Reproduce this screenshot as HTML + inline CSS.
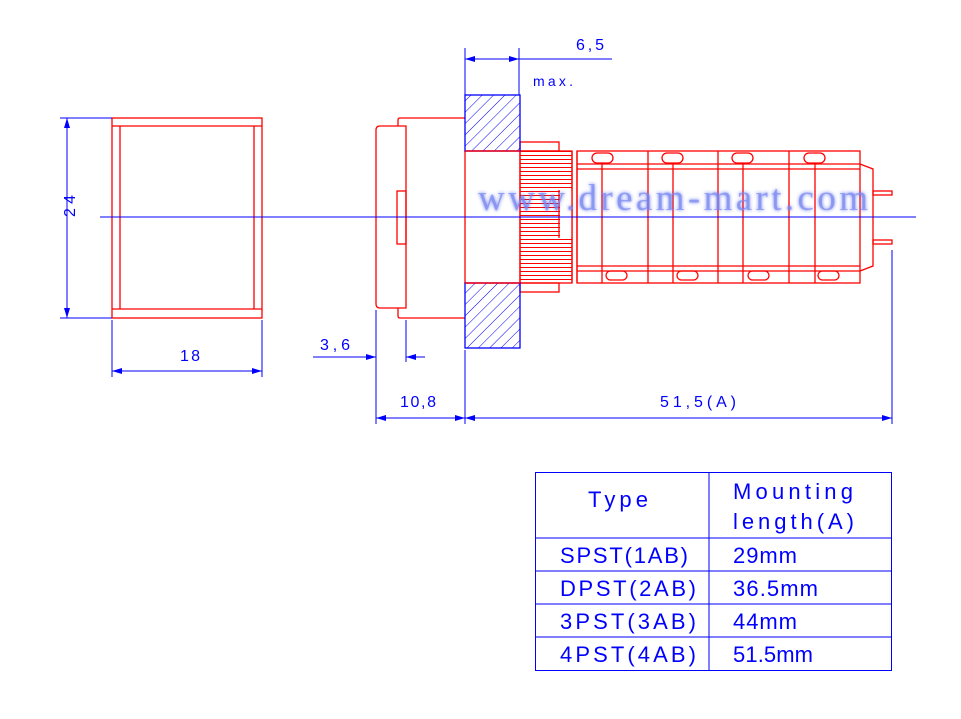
<!DOCTYPE html>
<html><head><meta charset="utf-8"><style>
html,body{margin:0;padding:0;background:#fff;width:961px;height:719px;overflow:hidden}
svg text{font-family:"Liberation Sans",sans-serif;fill:#0000ff}
</style></head><body>
<svg width="961" height="719" viewBox="0 0 961 719" xmlns="http://www.w3.org/2000/svg">
<defs>
<pattern id="hatch" patternUnits="userSpaceOnUse" width="8" height="8" patternTransform="rotate(45)">
<line x1="0" y1="0" x2="0" y2="8" stroke="#0000ff" stroke-width="1"/></pattern>
<pattern id="knurl" patternUnits="userSpaceOnUse" x="0" y="151" width="10" height="4">
<line x1="0" y1="0.5" x2="10" y2="0.5" stroke="#ff0000" stroke-width="1"/></pattern>
<filter id="blur"><feGaussianBlur stdDeviation="1.8"/></filter>
<marker id="ar" viewBox="0 0 10 6" refX="10" refY="3" markerWidth="10" markerHeight="6" orient="auto-start-reverse" markerUnits="userSpaceOnUse"><path d="M0,0 L10,3 L0,6 Z" fill="#0000ff"/></marker>
</defs>
<g fill="none" stroke="#ff0000" stroke-width="1.3">
<rect x="112" y="118" width="150" height="200"/>
<line x1="112" y1="126" x2="262" y2="126"/><line x1="112" y1="309" x2="262" y2="309"/>
<line x1="120" y1="126" x2="120" y2="309"/><line x1="254" y1="126" x2="254" y2="309"/>
<path d="M406,126 L380,126 Q376,126 376,130 L376,304 Q376,308 380,308 L406,308 Z"/>
<rect x="397" y="191" width="9" height="53"/>
<path d="M398,126 L398,120 Q398,118 400,118 L465,118"/>
<path d="M398,308 L398,316 Q398,318 400,318 L465,318"/>
<rect x="465" y="151" width="55" height="132"/>
<rect x="520" y="151" width="52" height="132" fill="url(#knurl)"/>
<rect x="560" y="191" width="11.5" height="46" fill="#fff" stroke="none"/>
<rect x="520" y="142" width="39" height="9"/><rect x="520" y="283" width="39" height="9"/>
<line x1="559" y1="190" x2="559" y2="238"/>
<line x1="572" y1="151" x2="572" y2="283"/><line x1="577" y1="151" x2="577" y2="283"/>
<rect x="577" y="151" width="283" height="132"/>
<line x1="577" y1="164" x2="860" y2="164"/><line x1="577" y1="169" x2="860" y2="169"/>
<line x1="577" y1="266" x2="860" y2="266"/><line x1="577" y1="271" x2="860" y2="271"/>
<line x1="648" y1="151" x2="648" y2="283"/><line x1="718" y1="151" x2="718" y2="283"/><line x1="789" y1="151" x2="789" y2="283"/>
<line x1="602" y1="164" x2="602" y2="283"/><line x1="673" y1="164" x2="673" y2="283"/><line x1="743" y1="164" x2="743" y2="283"/><line x1="815" y1="164" x2="815" y2="283"/>
<rect x="592" y="153" width="21" height="10" rx="5"/><rect x="662" y="153" width="21" height="10" rx="5"/><rect x="732" y="153" width="21" height="10" rx="5"/><rect x="804" y="153" width="21" height="10" rx="5"/>
<rect x="606" y="271" width="21" height="9" rx="4.5"/><rect x="677" y="271" width="21" height="9" rx="4.5"/><rect x="748" y="271" width="21" height="9" rx="4.5"/><rect x="818" y="271" width="21" height="9" rx="4.5"/>
<path d="M860,164 L873,169 L873,266 L860,271"/>
<rect x="873" y="191" width="19" height="4"/><rect x="873" y="240" width="19" height="4"/>
</g>
<rect x="465" y="95" width="55" height="56" fill="url(#hatch)" stroke="#0000ff" stroke-width="1.3"/>
<rect x="465" y="283" width="55" height="65" fill="url(#hatch)" stroke="#0000ff" stroke-width="1.3"/>
<line x1="465" y1="151" x2="520" y2="151" stroke="#ff0000" stroke-width="1.3"/>
<line x1="465" y1="283" x2="520" y2="283" stroke="#ff0000" stroke-width="1.3"/>
<text x="478" y="210" font-size="37" textLength="390" style="font-family:'Liberation Serif',serif;fill:#3a50f0;opacity:0.7" filter="url(#blur)">www.dream-mart.com</text>
<text x="478" y="210" font-size="37" textLength="390" style="font-family:'Liberation Serif',serif;fill:#7d8cf0;opacity:0.7">www.dream-mart.com</text>
<g stroke="#0000ff" stroke-width="1" fill="none">
<line x1="100" y1="217" x2="916" y2="217"/>
<line x1="60" y1="118" x2="112" y2="118"/><line x1="60" y1="318" x2="112" y2="318"/>
<line x1="67" y1="118" x2="67" y2="318" marker-start="url(#ar)" marker-end="url(#ar)"/>
<line x1="112" y1="320" x2="112" y2="377"/><line x1="262" y1="320" x2="262" y2="377"/>
<line x1="112" y1="371" x2="262" y2="371" marker-start="url(#ar)" marker-end="url(#ar)"/>
<line x1="465" y1="48" x2="465" y2="95"/><line x1="519" y1="48" x2="519" y2="95"/>
<line x1="465" y1="59" x2="519" y2="59" marker-start="url(#ar)" marker-end="url(#ar)"/>
<line x1="519" y1="59" x2="612" y2="59"/>
<line x1="376" y1="310" x2="376" y2="424"/><line x1="406" y1="320" x2="406" y2="362"/>
<line x1="465" y1="350" x2="465" y2="424"/><line x1="892" y1="250" x2="892" y2="424"/>
<line x1="313" y1="357" x2="376" y2="357" marker-end="url(#ar)"/>
<line x1="425" y1="357" x2="406" y2="357" marker-end="url(#ar)"/>
<line x1="376" y1="418" x2="465" y2="418" marker-start="url(#ar)" marker-end="url(#ar)"/>
<line x1="465" y1="418" x2="892" y2="418" marker-start="url(#ar)" marker-end="url(#ar)"/>
<rect x="535.5" y="472.5" width="356" height="198"/>
<line x1="709" y1="472" x2="709" y2="671"/>
<line x1="535" y1="538" x2="892" y2="538"/><line x1="535" y1="571" x2="892" y2="571"/>
<line x1="535" y1="604" x2="892" y2="604"/><line x1="535" y1="637" x2="892" y2="637"/>
</g>
<g font-size="16">
<text x="62" y="230" transform="rotate(-90 62 217)" textLength="22">24</text>
<text x="180" y="361" textLength="20">18</text>
<text x="576" y="50" textLength="28">6,5</text>
<text x="533" y="86" font-size="14" textLength="40">max.</text>
<text x="320" y="350" textLength="30">3,6</text>
<text x="400" y="407" textLength="36">10,8</text>
<text x="660" y="407" textLength="76">51,5(A)</text>
</g>
<g font-size="22">
<text x="588" y="507" textLength="60">Type</text>
<text x="733" y="499" textLength="120">Mounting</text>
<text x="733" y="529" textLength="121">length(A)</text>
<text x="560" y="563" textLength="128">SPST(1AB)</text>
<text x="560" y="596" textLength="136">DPST(2AB)</text>
<text x="560" y="629" textLength="136">3PST(3AB)</text>
<text x="560" y="662" textLength="136">4PST(4AB)</text>
<text x="733" y="563" textLength="64">29mm</text>
<text x="733" y="596" textLength="85">36.5mm</text>
<text x="733" y="629" textLength="64">44mm</text>
<text x="733" y="662" textLength="80">51.5mm</text>
</g>
</svg>
</body></html>
